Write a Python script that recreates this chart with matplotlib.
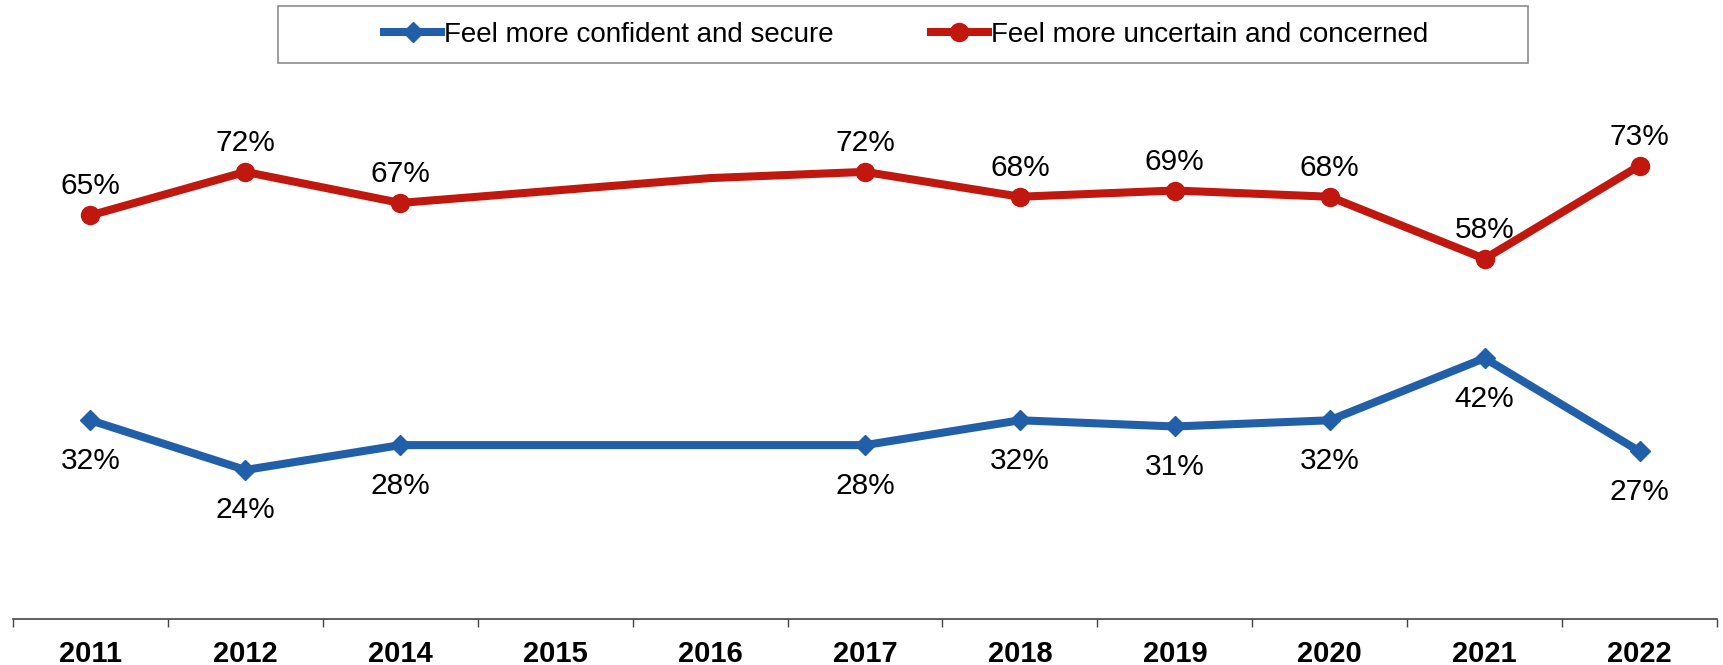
import matplotlib.pyplot as plt
from matplotlib.patches import Rectangle

plt.rcParams['font.family'] = ['Liberation Sans', 'DejaVu Sans']

years = ['2011', '2012', '2014', '2015', '2016', '2017', '2018', '2019', '2020', '2021', '2022']
confident = [32, 24, 28, 28, 28, 28, 32, 31, 32, 42, 27]
uncertain = [65, 72, 67, 69, 71, 72, 68, 69, 68, 58, 73]
# survey years that were actually asked (2015/2016 drawn without marker or label)
marked = [0, 1, 2, 5, 6, 7, 8, 9, 10]

blue = '#2160A8'
red = '#C0170E'

fig = plt.figure(figsize=(17.23, 6.65), dpi=100)
ax = fig.add_axes([13 / 1723, 46 / 665, 1704 / 1723, 621 / 665])

x = list(range(len(years)))
ax.plot(x, confident, color=blue, lw=5.8, marker='D', ms=10.5, markevery=marked,
        label='Feel more confident and secure', solid_joinstyle='round')
ax.plot(x, uncertain, color=red, lw=5.8, marker='o', ms=13, markevery=marked,
        label='Feel more uncertain and concerned', solid_joinstyle='round')

for i in marked:
    ax.annotate(f'{uncertain[i]}%', (i, uncertain[i]), xytext=(0, 23),
                textcoords='offset points', ha='center', va='center_baseline', fontsize=21.5)
    ax.annotate(f'{confident[i]}%', (i, confident[i]), xytext=(0, -27),
                textcoords='offset points', ha='center', va='center_baseline', fontsize=21.5)

ax.set_xlim(-0.5, len(years) - 0.5)
ax.set_ylim(0, 100)
ax.set_xticks(x)
ax.set_xticklabels(years, fontsize=21, fontweight='bold')
ax.set_xticks([i - 0.5 for i in range(len(years) + 1)], minor=True)
ax.tick_params(axis='x', which='major', length=0, pad=15)
ax.tick_params(axis='x', which='minor', length=6, width=1, color='#444444', direction='out')
ax.set_yticks([])
for side in ['top', 'left', 'right']:
    ax.spines[side].set_visible(False)
ax.spines['bottom'].set_color('#444444')
ax.spines['bottom'].set_linewidth(1.2)

leg = fig.legend(loc='center', bbox_to_anchor=(906 / 1723, 1 - 35 / 665), ncol=2,
                 frameon=False, fontsize=20, handlelength=2.05, handletextpad=0.1,
                 columnspacing=3.5)

# legend frame
fig.patches.append(Rectangle((278 / 1723, 1 - 63 / 665), 1250 / 1723, 57 / 665,
                             transform=fig.transFigure, fill=False,
                             edgecolor='#8c8c8c', lw=1.2))

fig.savefig('out.png', dpi=100)
